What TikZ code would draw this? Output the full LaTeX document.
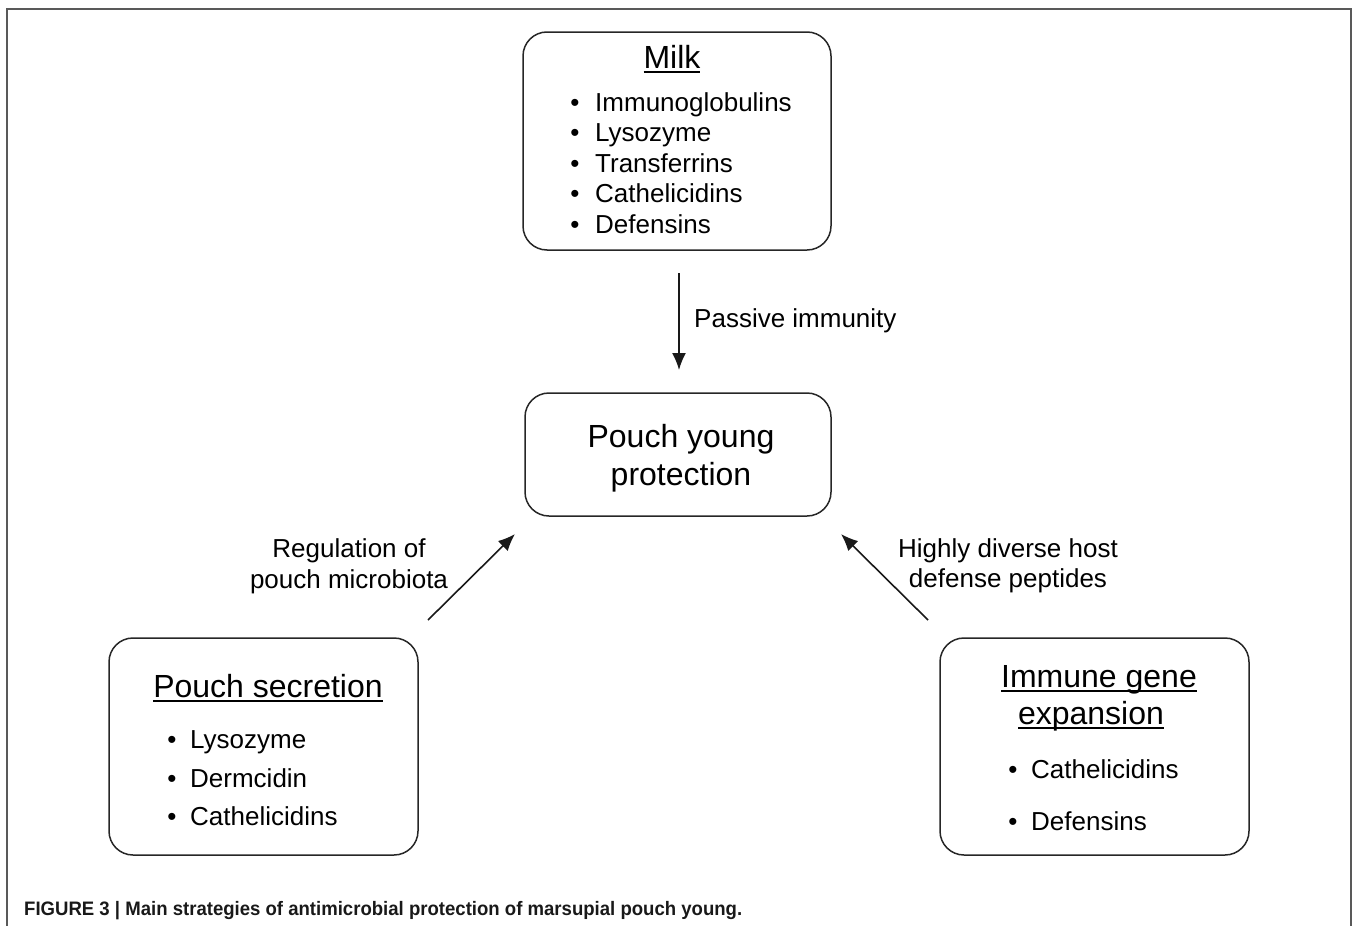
\documentclass[tikz,border=0pt]{standalone}
\usepackage{fontspec}
\usepackage{graphicx}
\setmainfont{Liberation Sans}
\usepackage{tikz}
\usetikzlibrary{arrows.meta}

% underline at a fixed depth, crossing descenders
\newcommand\ulhead[1]{\setbox0\hbox{#1}\rlap{\rule[-5pt]{\wd0}{1.7pt}}\box0}

\begin{document}
\begin{tikzpicture}[x=1pt,y=-1pt,
  box/.style={draw=black!85,line width=1.5pt,rounded corners=24pt,outer sep=0pt},
  head/.style={inner sep=0pt,font=\fontsize{32}{38}\selectfont},
  item/.style={inner sep=0pt,font=\fontsize{26}{31}\selectfont,anchor=base west},
  dot/.style={inner sep=0pt,font=\fontsize{26}{31}\selectfont,anchor=base},
  lbl/.style={inner sep=0pt,font=\fontsize{26}{31}\selectfont,align=center,anchor=base},
  arr/.style={-{Latex[length=17pt,width=14pt]},line width=1.6pt,black!90}]
\useasboundingbox (0,0) rectangle (1357,926);
\draw[black!65,line width=1.3pt] (7,926) -- (7,9) -- (1351,9) -- (1351,926);

% boxes
\node[box,minimum width=308pt,minimum height=218pt] (milk) at (677,141) {};
\node[box,minimum width=306pt,minimum height=123pt] (prot) at (678,454.5) {};
\node[box,minimum width=309pt,minimum height=217pt] (sec) at (263.5,746.5) {};
\node[box,minimum width=309pt,minimum height=217pt] (imm) at (1094.5,746.5) {};

% milk
\node[head,anchor=base] (milkt) at (672,68) {\ulhead{Milk}};
\foreach \nm [count=\i from 0] in {Immunoglobulins,Lysozyme,Transferrins,Cathelicidins,Defensins}{
  \node[dot] at (575,111+30.5*\i) {\textbullet};
  \node[item] at (595,111+30.5*\i) {\nm};
}

% centre
\node[head,anchor=base] (protl1) at (681,447) {Pouch young};
\node[head,anchor=base] (protl2) at (681,485) {protection};

% pouch secretion
\node[head,anchor=base] (sect) at (268,697) {\ulhead{Pouch secretion}};
\foreach \nm/\yy in {Lysozyme/748,Dermcidin/787,Cathelicidins/825}{
  \node[dot] at (172,\yy) {\textbullet};
  \node[item] at (190,\yy) {\nm};
}

% immune gene expansion
\node[head,anchor=base] (immt1) at (1099,687) {\ulhead{Immune gene}};
\node[head,anchor=base] (immt2) at (1091,724) {\ulhead{expansion}};
\foreach \nm/\yy in {Cathelicidins/778,Defensins/830}{
  \node[dot] at (1013,\yy) {\textbullet};
  \node[item] at (1031,\yy) {\nm};
}

% arrows
\draw[arr] ([xshift=2pt,yshift=-23pt]milk.south) -- ([xshift=1pt,yshift=23pt]prot.north);
\draw[arr] ([xshift=10pt,yshift=18pt]sec.north east) -- ([xshift=-10pt,yshift=-18pt]prot.south west);
\draw[arr] ([xshift=-12pt,yshift=18pt]imm.north west) -- ([xshift=10pt,yshift=-18pt]prot.south east);

% labels
\node[item] (passive) at (694,327) {Passive immunity};
\node[lbl] (regl1) at (349,557) {Regulation of};
\node[lbl] (regl2) at (349,588) {pouch microbiota};
\node[lbl] (hdl1) at (1008,557) {Highly diverse host};
\node[lbl] (hdl2) at (1008,587) {defense peptides};

% caption
\node[anchor=base west,inner sep=0pt,text=black!90,font=\bfseries\fontsize{19.5}{23}\selectfont] (cap) at (24,915)
  {\resizebox{718pt}{\height}{FIGURE 3 | Main strategies of antimicrobial protection of marsupial pouch young.}};
\end{tikzpicture}
\end{document}
